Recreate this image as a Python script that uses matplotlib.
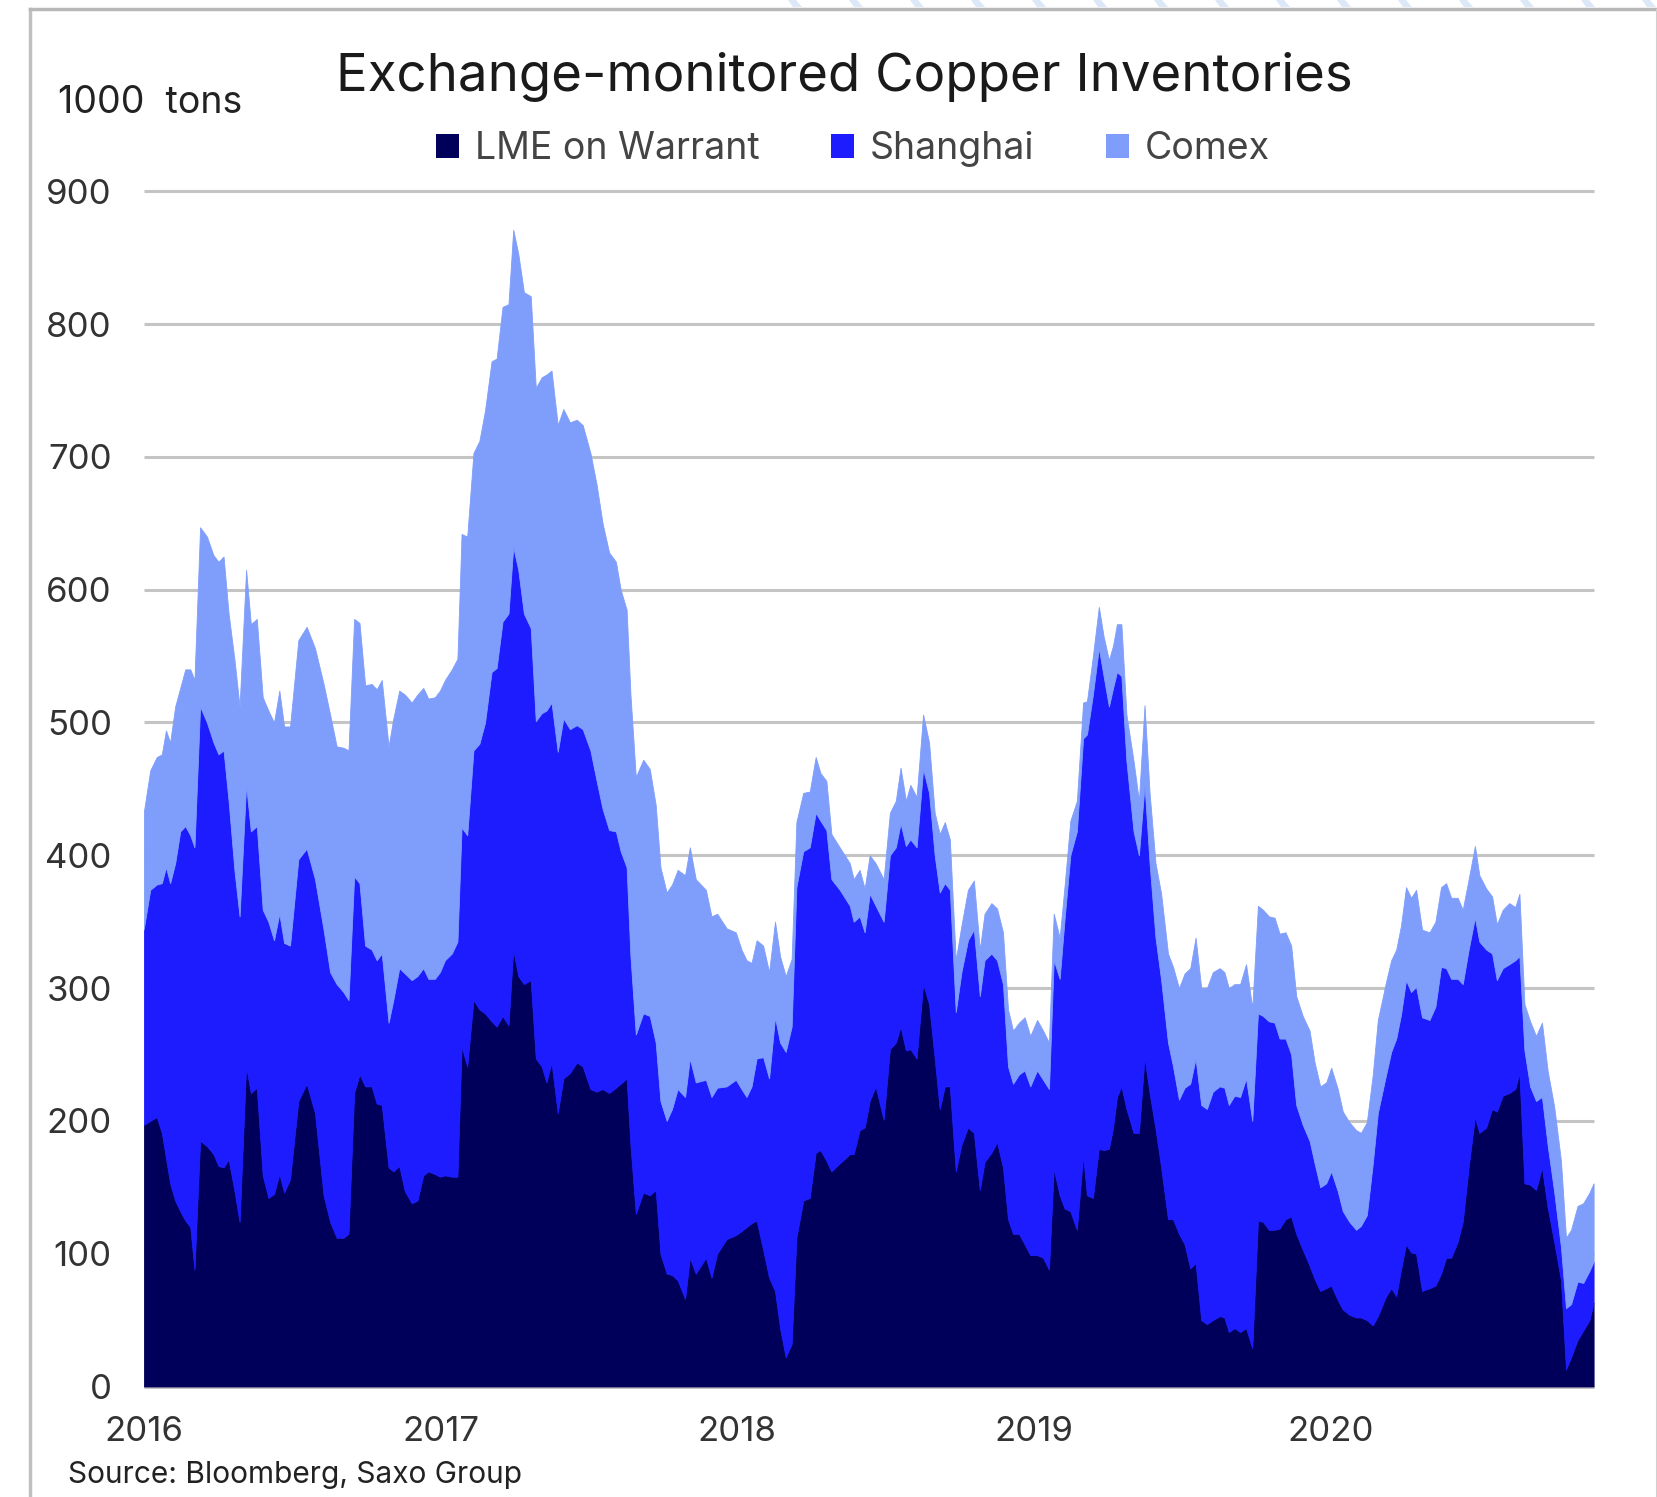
import numpy as np
import matplotlib.pyplot as plt
from matplotlib.patches import Patch, Polygon
from matplotlib.lines import Line2D

plt.rcParams['font.family'] = ['Inter', 'DejaVu Sans']

# weekly-ish samples, decimal years
years = [
    2016.000, 2016.022, 2016.044, 2016.061, 2016.075, 2016.089, 2016.106, 2016.123, 2016.140, 2016.157,
    2016.171, 2016.190, 2016.213, 2016.235, 2016.252, 2016.269, 2016.286, 2016.306, 2016.323, 2016.345,
    2016.361, 2016.381, 2016.401, 2016.420, 2016.439, 2016.457, 2016.473, 2016.493, 2016.521, 2016.549,
    2016.577, 2016.606, 2016.628, 2016.650, 2016.673, 2016.690, 2016.709, 2016.727, 2016.746, 2016.768,
    2016.785, 2016.802,
    2016.825, 2016.841, 2016.861, 2016.880, 2016.903, 2016.922, 2016.942, 2016.959, 2016.981, 2016.998,
    2017.015, 2017.038, 2017.057, 2017.071, 2017.090, 2017.111, 2017.131, 2017.150, 2017.172, 2017.189,
    2017.209, 2017.229, 2017.245, 2017.262, 2017.281, 2017.304, 2017.321, 2017.341, 2017.357, 2017.374,
    2017.395, 2017.414, 2017.436, 2017.459, 2017.479, 2017.505, 2017.526, 2017.546, 2017.568, 2017.591,
    2017.607, 2017.627, 2017.640, 2017.658,
    2017.683, 2017.705, 2017.725, 2017.741, 2017.762, 2017.780, 2017.799, 2017.824, 2017.840, 2017.860,
    2017.894, 2017.913, 2017.932, 2017.964, 2017.995, 2018.014, 2018.031, 2018.048, 2018.065, 2018.087,
    2018.107, 2018.127, 2018.144, 2018.163, 2018.183, 2018.199, 2018.222, 2018.244, 2018.264, 2018.280,
    2018.300, 2018.317, 2018.345, 2018.379, 2018.392, 2018.412, 2018.429, 2018.446, 2018.466,
    2018.493, 2018.514, 2018.534, 2018.550, 2018.568, 2018.583, 2018.604, 2018.626, 2018.646, 2018.665,
    2018.682, 2018.699, 2018.716, 2018.736, 2018.755, 2018.777, 2018.797, 2018.817, 2018.833, 2018.856,
    2018.875, 2018.895, 2018.912, 2018.929, 2018.949, 2018.968, 2018.987, 2019.010, 2019.030, 2019.050,
    2019.066, 2019.086, 2019.103, 2019.122, 2019.144, 2019.165, 2019.178, 2019.198, 2019.218, 2019.234,
    2019.252, 2019.266, 2019.279, 2019.294, 2019.311,
    2019.335, 2019.353, 2019.372, 2019.389, 2019.409, 2019.428, 2019.451, 2019.468, 2019.488, 2019.507,
    2019.526, 2019.544, 2019.563, 2019.582, 2019.602, 2019.625, 2019.641, 2019.656, 2019.675, 2019.694,
    2019.714, 2019.735, 2019.754, 2019.771, 2019.791, 2019.810, 2019.827, 2019.847, 2019.866, 2019.883,
    2019.905, 2019.928, 2019.945, 2019.964, 2019.984, 2020.001, 2020.023, 2020.040, 2020.062, 2020.085,
    2020.101, 2020.121, 2020.141, 2020.158,
    2020.186, 2020.203, 2020.220, 2020.236, 2020.253, 2020.270, 2020.287, 2020.307, 2020.332, 2020.352,
    2020.371, 2020.388, 2020.405, 2020.427, 2020.444, 2020.464, 2020.485, 2020.500, 2020.523, 2020.543,
    2020.559, 2020.579, 2020.601, 2020.621, 2020.635, 2020.652, 2020.671, 2020.691, 2020.711, 2020.730,
    2020.752, 2020.775, 2020.792, 2020.809, 2020.831, 2020.850, 2020.871, 2020.885,
]

# 1000 tons
lme = [
    197, 200, 203, 191, 172, 153, 140, 132, 125, 120,
    88, 185, 181, 175, 166, 165, 171, 147, 124, 241,
    221, 225, 159, 142, 145, 160, 146, 156, 215, 228,
    206, 144, 124, 112, 112, 115, 221, 235, 226, 226,
    213, 212,
    165, 162, 166, 147, 138, 140, 159, 162, 160, 158,
    159, 158, 158, 256, 241, 291, 284, 281, 275, 271,
    279, 272, 329, 309, 303, 306, 247, 241, 229, 244,
    206, 232, 236, 244, 241, 224, 222, 224, 221, 225,
    228, 232, 182, 130,
    146, 144, 148, 100, 85, 84, 80, 66, 97, 85,
    97, 82, 100, 111, 114, 117, 120, 123, 125, 103,
    82, 72, 44, 22, 32, 112, 140, 142, 176, 178,
    170, 162, 168, 175, 175, 193, 195, 215, 226,
    201, 254, 259, 271, 253, 254, 247, 303, 288, 247,
    209, 226, 226, 162, 182, 195, 191, 148, 169, 176,
    184, 165, 126, 115, 115, 107, 99, 99, 97, 88,
    164, 144, 134, 132, 118, 174, 144, 142, 179, 178,
    179, 195, 218, 226, 209,
    191, 191, 248, 221, 194, 165, 126, 126, 115, 107,
    89, 93, 50, 47, 50, 53, 52, 41, 44, 41,
    44, 29, 125, 124, 118, 118, 119, 126, 128, 115,
    103, 91, 81, 72, 74, 76, 65, 58, 54, 52,
    52, 50, 46, 53,
    68, 74, 68, 88, 107, 101, 100, 72, 74, 76,
    85, 97, 97, 109, 124, 165, 203, 191, 195, 209,
    207, 219, 221, 224, 236, 153, 152, 148, 165, 135,
    109, 80, 13, 22, 35, 42, 50, 63,
]

shanghai = [
    147, 174, 175, 188, 219, 226, 254, 286, 297, 295,
    318, 327, 319, 310, 310, 314, 270, 241, 230, 212,
    197, 197, 200, 208, 191, 196, 188, 176, 182, 177,
    176, 200, 188, 191, 185, 176, 163, 144, 106, 103,
    108, 114,
    109, 129, 149, 164, 168, 169, 156, 145, 147, 154,
    162, 168, 177, 165, 174, 188, 200, 219, 263, 270,
    297, 310, 303, 306, 279, 265, 254, 266, 280, 271,
    272, 271, 259, 254, 254, 255, 234, 211, 198, 193,
    175, 159, 142, 135,
    135, 135, 111, 115, 115, 125, 144, 152, 150, 144,
    134, 136, 125, 115, 117, 107, 98, 103, 122, 145,
    150, 206, 215, 230, 239, 264, 263, 264, 256, 248,
    249, 220, 206, 187, 175, 161, 147, 156, 136,
    149, 146, 147, 153, 154, 158, 159, 162, 159, 153,
    163, 153, 148, 120, 130, 141, 153, 146, 152, 150,
    137, 138, 115, 113, 120, 131, 127, 139, 134, 136,
    157, 163, 219, 268, 300, 314, 347, 379, 377, 357,
    333, 331, 320, 309, 262,
    227, 209, 205, 173, 144, 141, 133, 115, 101, 118,
    139, 154, 162, 162, 172, 173, 173, 171, 175, 177,
    188, 171, 156, 155, 157, 156, 143, 136, 122, 97,
    94, 94, 87, 78, 79, 86, 82, 74, 70, 66,
    69, 79, 122, 153,
    167, 178, 194, 192, 199, 196, 201, 206, 202, 210,
    231, 218, 210, 198, 179, 164, 150, 144, 134, 117,
    99, 96, 97, 97, 88, 100, 74, 67, 53, 47,
    38, 25, 46, 40, 44, 36, 37, 31,
]

comex = [
    88, 90, 96, 97, 103, 106, 118, 108, 118, 125,
    126, 135, 140, 141, 145, 146, 141, 159, 158, 162,
    156, 156, 160, 159, 164, 168, 163, 165, 165, 167,
    174, 185, 194, 179, 184, 188, 194, 196, 196, 200,
    204, 206,
    208, 212, 209, 210, 209, 212, 211, 211, 212, 212,
    211, 214, 213, 221, 225, 224, 228, 235, 234, 233,
    237, 233, 239, 238, 242, 250, 251, 253, 253, 250,
    246, 233, 231, 230, 229, 224, 223, 215, 209, 203,
    197, 194, 197, 194,
    191, 186, 179, 176, 172, 169, 165, 167, 159, 153,
    143, 136, 131, 119, 111, 105, 103, 93, 89, 84,
    80, 72, 65, 57, 51, 49, 44, 42, 42, 36,
    37, 34, 32, 32, 32, 35, 33, 29, 32,
    32, 32, 35, 42, 34, 41, 38, 41, 38, 32,
    44, 46, 38, 39, 35, 38, 37, 35, 35, 38,
    39, 39, 43, 40, 39, 40, 38, 38, 37, 35,
    35, 31, 25, 26, 23, 27, 25, 29, 31, 30,
    35, 32, 36, 39, 35,
    53, 41, 60, 53, 56, 65, 67, 75, 84, 86,
    87, 91, 88, 91, 90, 89, 87, 88, 84, 85,
    86, 85, 81, 80, 79, 79, 79, 80, 82, 82,
    82, 83, 76, 76, 76, 78, 77, 75, 75, 75,
    70, 70, 67, 70,
    70, 69, 67, 67, 70, 71, 73, 66, 66, 64,
    60, 64, 61, 61, 56, 53, 54, 50, 46, 43,
    42, 44, 46, 40, 47, 35, 49, 49, 56, 56,
    64, 65, 53, 56, 57, 60, 59, 59,
]

labels = ['LME on Warrant', 'Shanghai', 'Comex']
colors = ['#00005a', '#1c1cff', '#7f9dfb']
year_ticks = [2016, 2017, 2018, 2019, 2020]

W, H = 1657, 1497
fig = plt.figure(figsize=(W / 100, H / 100), dpi=100)
ax = fig.add_axes([143.7 / W, 1 - 1386.5 / H, (1593.6 - 143.7) / W, (1386.5 - 191.3) / H])

x = np.array(years)
ax.hlines(range(0, 1000, 100), x[0], x[-1], colors='#c4c4c4', lw=2.2, zorder=1, clip_on=False)

bottom = np.zeros(len(x))
for vals, c in zip([lme, shanghai, comex], colors):
    top = bottom + np.array(vals)
    ax.fill_between(x, bottom, top, color=c, lw=0.6, edgecolor=c, zorder=2)
    bottom = top

ax.set_xlim(x[0], x[-1])
ax.set_ylim(0, 900)
for s in ax.spines.values():
    s.set_visible(False)
ax.set_yticks(range(0, 1000, 100))
ax.set_xticks(year_ticks)
ax.set_xticklabels([str(y) for y in year_ticks])
ax.tick_params(axis='y', length=0, pad=23, labelsize=25, labelcolor='#333333')
ax.tick_params(axis='x', length=0, pad=21, labelsize=25, labelcolor='#333333')

fig.text(844 / W, 1 - 77 / H, 'Exchange-monitored Copper Inventories',
         ha='center', va='center', fontsize=38, color='#1a1a1a')
fig.text(58 / W, 1 - 103 / H, '1000  tons', ha='left', va='center', fontsize=27, color='#222222')
fig.text(68 / W, 1 - 1475 / H, 'Source: Bloomberg, Saxo Group', ha='left', va='center',
         fontsize=21.5, color='#222222')

handles = [Patch(facecolor=c, edgecolor='none') for c in colors]
fig.legend(handles, labels, loc='center', bbox_to_anchor=(853 / W, 1 - 149 / H), ncol=3,
           frameon=False, fontsize=27, handlelength=0.62, handleheight=0.62, handletextpad=0.42,
           columnspacing=1.9, labelcolor='#444444')

# outer frame
fig.add_artist(Line2D([30 / W, 30 / W], [0, 1 - 8.5 / H], color='#c0c0c0', lw=2.5))
fig.add_artist(Line2D([30 / W, 1], [1 - 8.5 / H, 1 - 8.5 / H], color='#b8b8b8', lw=2.5))
fig.add_artist(Line2D([1655.5 / W, 1655.5 / W], [0, 1 - 8.5 / H], color='#d0d0d0', lw=0.8))

# faint diagonal stripes above the frame, top right
for x0 in range(788, W, 61):
    pts = [(x0, 0), (x0 + 8, 0), (x0 + 14, 7), (x0 + 5, 7)]
    fig.add_artist(Polygon([(px / W, 1 - py / H) for px, py in pts], closed=True,
                           transform=fig.transFigure, facecolor='#dce7f8', edgecolor='none'))

fig.savefig('out.png', dpi=100, facecolor='white')
